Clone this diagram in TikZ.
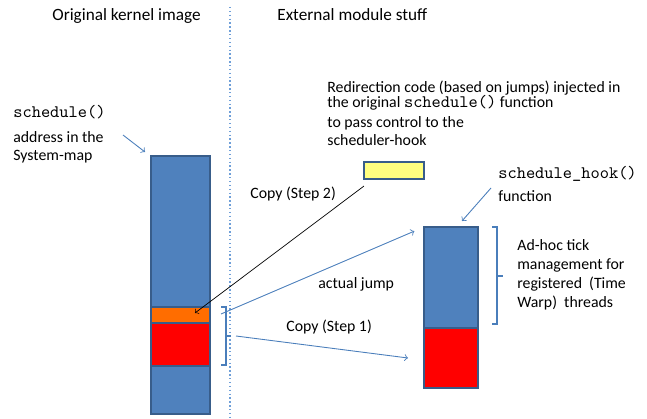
\documentclass[tikz,border=0pt]{standalone}
\usepackage{fontspec}
\setmainfont{Carlito}
\usepackage{tikz}

\definecolor{barblue}{HTML}{4F81BD}
\definecolor{barline}{HTML}{385D8A}
\definecolor{codeorange}{HTML}{FF6D00}
\definecolor{codered}{HTML}{FF0000}
\definecolor{codeyellow}{HTML}{FFFF80}
\definecolor{linkblue}{HTML}{4A7EBB}
\definecolor{splitblue}{HTML}{6F9FD8}

\begin{document}
\begin{tikzpicture}[x=0.02cm,y=-0.02cm,
    seg/.style={draw=barline, line width=0.8pt, inner sep=0pt, outer sep=0pt, anchor=north west},
    txt/.style={inner sep=0pt, anchor=base west, font=\fontsize{9}{10.8}\selectfont},
    headline/.style={inner sep=0pt, anchor=base west, font=\fontsize{9.8}{11.8}\selectfont},
    link/.style={->, draw=linkblue, line width=0.5pt},
    brace/.style={draw=linkblue, line width=0.6pt}]
  \useasboundingbox (0,0) rectangle (647,419);

  % headings and the split
  \node[headline] (orig) at (52,20) {Original kernel image};
  \node[headline] (ext) at (277,20) {External module stuff};
  \draw[splitblue, line width=0.6pt, dash pattern=on 0.8pt off 1.4pt] (230,7) -- (230,419);

  % kernel side
  \node[seg, fill=barblue, minimum width=1.18cm, minimum height=3.02cm] (kt) at (151,156) {};
  \node[seg, fill=codeorange, minimum width=1.18cm, minimum height=0.32cm] (ko) at (151,307) {};
  \node[seg, fill=codered, minimum width=1.18cm, minimum height=0.86cm] (kr) at (151,323) {};
  \node[seg, fill=barblue, minimum width=1.18cm, minimum height=0.96cm] (kb) at (151,366) {};

  \node[txt] (sched) at (13,117) {\fontsize{10}{12}\selectfont\texttt{schedule()}};
  \node[txt] (addr) at (13,142) {address in the};
  \node[txt] (smap) at (13,160) {System-map};
  \coordinate (a1) at (123,135);
  \coordinate (a2) at (145,152);
  \draw[link] (a1) -- (a2);

  % module side
  \node[txt] (redir) at (327,92) {Redirection code (based on jumps) injected in};
  \node[txt] (orig2) at (327,108) {the original {\fontsize{10}{12}\selectfont\texttt{schedule()}} function};
  \node[txt] (pass) at (327,128) {to pass control to the};
  \node[txt] (shook) at (327,145) {scheduler-hook};
  \node[seg, fill=codeyellow, minimum width=1.2cm, minimum height=0.34cm] (jmpcode) at (364,162) {};

  \node[seg, fill=barblue, minimum width=1.08cm, minimum height=2.02cm] (ht) at (424,227) {};
  \node[seg, fill=codered, minimum width=1.08cm, minimum height=1.2cm] (hr) at (424,328) {};

  \node[txt] (hookname) at (498,178) {\fontsize{10}{12}\selectfont\texttt{schedule\_hook()}};
  \node[txt] (func) at (498,201) {function};
  \coordinate (h1) at (491,188);
  \coordinate (h2) at (462,221);
  \draw[link] (h1) -- (h2);

  \node[txt] (adhoc) at (517,250) {Ad-hoc tick};
  \node[txt] (mgmt) at (517,269) {management for};
  \node[txt] (reg) at (517,288) {registered\ \ (Time};
  \node[txt] (warp) at (517,307) {Warp)\ \ threads};

  % braces
  \draw[brace] (221,307) -- (226,307) -- (226,365) -- (221,365);
  \draw[brace] (226,336) -- (231,336);
  \draw[brace] (492,227) -- (497,227) -- (497,324) -- (492,324);
  \draw[brace] (497,276) -- (503,276);

  % jumps and copies
  \coordinate (jfrom) at (221,314);
  \coordinate (cfrom) at (236,336);
  \coordinate (cto) at (408,358);
  \coordinate (yto) at (195,313);
  \draw[link, shorten >=6pt] (jfrom) -- (ht.north west);
  \node[txt] (jumplbl) at (318,288) {actual jump};
  \draw[link] (cfrom) -- (cto);
  \node[txt] (step1) at (286,331) {Copy (Step 1)};
  \draw[->, black, line width=0.4pt] ([yshift=-4pt]jmpcode.south west) -- (yto);
  \node[txt] (step2) at (250,198) {Copy (Step 2)};
\end{tikzpicture}
\end{document}
